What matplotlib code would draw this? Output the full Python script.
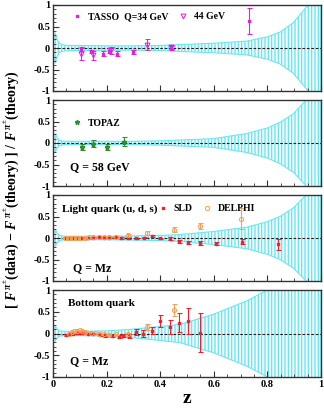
import matplotlib
matplotlib.use("Agg")
import matplotlib.pyplot as plt
from matplotlib.ticker import MultipleLocator

plt.rcParams["font.family"] = ["Liberation Serif", "DejaVu Serif"]
plt.rcParams["font.weight"] = "bold"
plt.rcParams["axes.unicode_minus"] = False
plt.rcParams["mathtext.fontset"] = "custom"
plt.rcParams["mathtext.rm"] = "Liberation Serif:bold"
plt.rcParams["mathtext.it"] = "Liberation Serif:italic:bold"
plt.rcParams["mathtext.bf"] = "Liberation Serif:bold"
plt.rcParams["hatch.linewidth"] = 1.0

# uncertainty bands (half widths)
band_z = [0.008, 0.015, 0.025, 0.04, 0.06, 0.1, 0.2, 0.3, 0.4, 0.474, 0.598, 0.723, 0.8, 0.847, 0.897, 0.952, 1.0]
band_tasso = [0.35, 0.2, 0.1, 0.07, 0.06, 0.06, 0.05, 0.05, 0.06, 0.08, 0.11, 0.16, 0.26, 0.37, 0.59, 1.0, 1.2]
band_topaz = [0.22, 0.12, 0.06, 0.04, 0.04, 0.04, 0.04, 0.04, 0.05, 0.07, 0.1, 0.22, 0.35, 0.48, 0.68, 1.05, 1.2]
band_light = [0.2, 0.12, 0.06, 0.04, 0.04, 0.04, 0.04, 0.05, 0.06, 0.08, 0.15, 0.25, 0.38, 0.5, 0.7, 1.05, 1.2]
band_bottom = [0.18, 0.1, 0.06, 0.05, 0.05, 0.05, 0.06, 0.1, 0.16, 0.21, 0.44, 0.75, 1.0, 1.2, 1.2, 1.2, 1.2]

# TASSO
tasso34_z = [0.105, 0.14, 0.185, 0.21, 0.24, 0.30, 0.44, 0.73]
tasso34_y = [-0.03, -0.08, -0.13, -0.06, -0.13, -0.10, 0.0, 0.63]
tasso34_e = [0.05, 0.04, 0.06, 0.05, 0.05, 0.05, 0.05, 0.30]
tasso44_z = [0.105, 0.15, 0.215, 0.35, 0.44]
tasso44_y = [-0.15, -0.17, -0.05, 0.08, 0.02]
tasso44_e = [0.14, 0.11, 0.08, 0.12, 0.05]

# TOPAZ
topaz_z = [0.109, 0.148, 0.20, 0.266]
topaz_y = [-0.09, -0.02, -0.09, 0.03]
topaz_e = [0.07, 0.08, 0.07, 0.10]

# light quark
sld_l_z = [0.05, 0.06, 0.075, 0.09, 0.11, 0.13, 0.15, 0.17, 0.19, 0.21, 0.23, 0.255, 0.28, 0.31,
           0.34, 0.37, 0.40, 0.435, 0.47, 0.505, 0.55, 0.61, 0.705, 0.84]
sld_l_y = [0.0, -0.01, 0.0, 0.01, 0.0, -0.01, 0.01, 0.02, 0.01, 0.01, 0.02, 0.0, 0.0, -0.01,
           0.01, 0.05, -0.01, -0.01, -0.08, -0.11, -0.12, -0.13, -0.09, -0.15]
sld_l_e = [0.01, 0.01, 0.01, 0.01, 0.01, 0.01, 0.01, 0.01, 0.01, 0.01, 0.01, 0.015, 0.015, 0.015,
           0.02, 0.03, 0.02, 0.03, 0.04, 0.04, 0.05, 0.04, 0.06, 0.13]
delphi_l_z = [0.045, 0.055, 0.065, 0.075, 0.085, 0.095, 0.105, 0.12, 0.135, 0.15, 0.17, 0.19,
              0.21, 0.235, 0.28, 0.35, 0.45, 0.55, 0.70]
delphi_l_y = [0.0, 0.0, 0.0, 0.01, 0.0, 0.0, 0.01, 0.01, 0.02, 0.03, 0.02, 0.03,
              0.02, 0.03, 0.06, 0.12, 0.19, 0.29, 0.45]
delphi_l_e = [0.01, 0.01, 0.01, 0.01, 0.01, 0.01, 0.01, 0.01, 0.01, 0.015, 0.015, 0.015,
              0.02, 0.02, 0.03, 0.05, 0.06, 0.07, 0.24]

# bottom quark
sld_b_z = [0.05, 0.063, 0.076, 0.088, 0.10, 0.113, 0.13, 0.15, 0.175, 0.195, 0.22, 0.245,
           0.26, 0.285, 0.31, 0.335, 0.37, 0.40, 0.435, 0.47, 0.505, 0.55]
sld_b_y = [-0.04, -0.02, 0.0, 0.01, 0.02, 0.01, 0.0, 0.0, -0.03, -0.04, -0.06, -0.07,
           -0.05, -0.06, 0.03, -0.01, 0.06, 0.29, 0.15, 0.25, 0.28, 0.02]
sld_b_e = [0.02, 0.02, 0.02, 0.02, 0.02, 0.02, 0.02, 0.02, 0.02, 0.03, 0.03, 0.04,
           0.04, 0.05, 0.07, 0.08, 0.08, 0.13, 0.15, 0.22, 0.30, 0.44]
delphi_b_z = [0.06, 0.07, 0.08, 0.09, 0.10, 0.11, 0.12, 0.14, 0.155, 0.17, 0.19, 0.21,
              0.235, 0.28, 0.35, 0.45]
delphi_b_y = [0.0, 0.03, 0.05, 0.06, 0.08, 0.06, 0.04, 0.02, 0.01, -0.01, -0.02, -0.03,
              -0.02, -0.02, 0.15, 0.54]
delphi_b_e = [0.01, 0.01, 0.01, 0.01, 0.01, 0.01, 0.01, 0.01, 0.01, 0.015, 0.015, 0.02,
              0.02, 0.03, 0.06, 0.13]

CYAN = "#66e8f4"
MAGENTA = "#e020dc"
GREEN = "#2f8f2f"
RED = "#ee2030"
ORANGE = "#f5a055"
SPINE = "#333333"

fig = plt.figure(figsize=(3.24, 4.12), dpi=100)
W = 324.0
H = 412.0
panel_px = [(5, 91), (100, 186), (195, 281), (290, 377)]
axes = []
for top, bot in panel_px:
    ax = fig.add_axes([53 / W, 1 - bot / H, 268 / W, (bot - top) / H])
    axes.append(ax)

bands = [band_tasso, band_topaz, band_light, band_bottom]
for ax, hw in zip(axes, bands):
    lo = [-v for v in hw]
    ax.fill_between(band_z, lo, hw, facecolor="none", edgecolor=CYAN,
                    hatch="|||||", linewidth=0.8, zorder=1)
    ax.axhline(0, color="#222222", lw=0.8, ls=(0, (2.5, 1.5)), zorder=2)
    ax.set_xlim(0, 1)
    ax.set_ylim(-1, 1)
    ax.xaxis.set_major_locator(MultipleLocator(0.2))
    ax.xaxis.set_minor_locator(MultipleLocator(0.05))
    ax.yaxis.set_minor_locator(MultipleLocator(0.1))
    ax.set_yticks([-1, -0.5, 0, 0.5, 1])
    ax.set_yticklabels(["-1", "-0.5", "0", "0.5", "1"], fontweight="bold")
    ax.tick_params(which="both", direction="in", labelsize=7.5, color=SPINE, pad=2)
    ax.tick_params(which="major", length=4, width=0.8)
    ax.tick_params(which="minor", length=2, width=0.6)
    for s in ax.spines.values():
        s.set_color(SPINE)
        s.set_linewidth(1.0)
    if ax is not axes[-1]:
        ax.tick_params(labelbottom=False)

ebkw = dict(capsize=1.8, elinewidth=0.8, capthick=0.8, ls="none", zorder=3)

ax1 = axes[0]
t34 = ax1.errorbar(tasso34_z, tasso34_y, yerr=tasso34_e, color=MAGENTA, marker="s", ms=2,
                   label="TASSO  Q=34 GeV", **ebkw)
t44 = ax1.errorbar(tasso44_z, tasso44_y, yerr=tasso44_e, color=MAGENTA, marker="v", ms=3.5,
                   mfc="none", mew=0.7, label="44 GeV", **ebkw)
ax1.legend(handles=[t34[0], t44[0]], labels=["TASSO  Q=34 GeV", "44 GeV"],
           loc="upper left", bbox_to_anchor=(0.065, 0.96), ncol=2, frameon=False,
           fontsize=7, handlelength=0.6, handletextpad=0.8, columnspacing=1.2,
           borderaxespad=0)

ax2 = axes[1]
tp = ax2.errorbar(topaz_z, topaz_y, yerr=topaz_e, color=GREEN, marker="*", ms=3.5,
                  label="TOPAZ", **ebkw)
ax2.legend(handles=[tp[0]], labels=["TOPAZ"], loc="upper left",
           bbox_to_anchor=(0.065, 0.83), frameon=False, fontsize=7,
           handlelength=0.6, handletextpad=0.8, borderaxespad=0)
ax2.text(0.065, 0.22, "Q = 58 GeV", transform=ax2.transAxes, fontsize=8.5,
         fontweight="bold", va="center")

ax3 = axes[2]
s3 = ax3.errorbar(sld_l_z, sld_l_y, yerr=sld_l_e, color=RED, marker="s", ms=2, **ebkw)
d3 = ax3.errorbar(delphi_l_z, delphi_l_y, yerr=delphi_l_e, color=ORANGE, marker="o", ms=3,
                  mfc="none", mew=0.7, **ebkw)
ax3.text(0.035, 0.84, "Light quark (u, d, s)", transform=ax3.transAxes, fontsize=8,
         fontweight="bold", va="center")
ax3.legend(handles=[s3[0], d3[0]], labels=["SLD", "DELPHI"], loc="center left",
           bbox_to_anchor=(0.385, 0.84), ncol=2, frameon=False,
           fontsize=7, handlelength=0.6, handletextpad=0.8, columnspacing=1.2,
           borderaxespad=0)
ax3.text(0.075, 0.15, "Q = Mz", transform=ax3.transAxes, fontsize=8.5,
         fontweight="bold", va="center")

ax4 = axes[3]
ax4.errorbar(sld_b_z, sld_b_y, yerr=sld_b_e, color=RED, marker="s", ms=2, **ebkw)
ax4.errorbar(delphi_b_z, delphi_b_y, yerr=delphi_b_e, color=ORANGE, marker="o", ms=3,
             mfc="none", mew=0.7, **ebkw)
ax4.text(0.055, 0.84, "Bottom quark", transform=ax4.transAxes, fontsize=8,
         fontweight="bold", va="center")
ax4.text(0.065, 0.18, "Q = Mz", transform=ax4.transAxes, fontsize=8.5,
         fontweight="bold", va="center")
ax4.set_xticks([0, 0.2, 0.4, 0.6, 0.8, 1])
ax4.set_xticklabels(["0", "0.2", "0.4", "0.6", "0.8", "1"], fontweight="bold")
ax4.set_xlabel("z", fontsize=14, fontweight="bold", labelpad=1)

fig.text(12 / W, 1 - 190 / H,
         r"[ $F^{\,\pi^{\pm}}$(data) $-$ $F^{\,\pi^{\pm}}$(theory) ] / $F^{\,\pi^{\pm}}$(theory)",
         rotation=90, ha="center", va="center", fontsize=10, fontweight="bold")

fig.savefig("out.png", dpi=100)
